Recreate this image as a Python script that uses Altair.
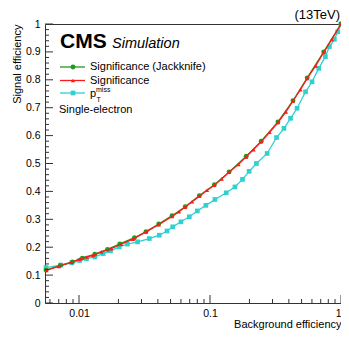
import altair as alt
import pandas as pd

# ---- data ----
red_x = [0.00565, 0.0070, 0.0087, 0.0101, 0.0115, 0.0128, 0.0148, 0.0176, 0.021, 0.0258,
         0.0325, 0.0406, 0.0513, 0.058, 0.0647, 0.073, 0.083, 0.095, 0.108, 0.123,
         0.14, 0.165, 0.189, 0.215, 0.246, 0.285, 0.33, 0.38, 0.43, 0.49,
         0.552, 0.64, 0.738, 0.85, 1.0]
red_y = [0.117, 0.131, 0.146, 0.157, 0.165, 0.171, 0.183, 0.195, 0.211, 0.229,
         0.255, 0.281, 0.310, 0.327, 0.344, 0.363, 0.383, 0.404, 0.422, 0.445,
         0.469, 0.497, 0.524, 0.550, 0.578, 0.612, 0.647, 0.685, 0.724, 0.765,
         0.805, 0.850, 0.898, 0.945, 1.0]

green_x = [0.0056, 0.0072, 0.0089, 0.0106, 0.0132, 0.0165, 0.0205, 0.0265, 0.0325, 0.0406,
           0.0513, 0.0647, 0.083, 0.108, 0.14, 0.189, 0.246, 0.33, 0.43, 0.552, 0.738, 1.0]
green_y = [0.118, 0.135, 0.147, 0.161, 0.175, 0.192, 0.212, 0.234, 0.256, 0.283,
           0.313, 0.345, 0.385, 0.424, 0.470, 0.526, 0.580, 0.649, 0.725, 0.807, 0.900, 1.0]

cyan_x = [0.0056, 0.00726, 0.0088, 0.0101, 0.0114, 0.0132, 0.0153, 0.0174, 0.0203, 0.0234,
          0.028, 0.0344, 0.041, 0.047, 0.0519, 0.060, 0.0695, 0.080, 0.093, 0.109,
          0.133, 0.155, 0.177, 0.199, 0.226, 0.273, 0.322, 0.367, 0.412, 0.462,
          0.536, 0.601, 0.676, 0.76, 0.816, 0.89, 0.944, 1.0]
cyan_y = [0.127, 0.136, 0.144, 0.152, 0.159, 0.165, 0.177, 0.187, 0.201, 0.211,
          0.219, 0.231, 0.243, 0.258, 0.273, 0.291, 0.309, 0.330, 0.350, 0.371,
          0.395, 0.416, 0.443, 0.472, 0.500, 0.536, 0.593, 0.626, 0.662, 0.698,
          0.757, 0.793, 0.841, 0.883, 0.919, 0.945, 0.972, 1.0]

y_major = [round(0.1 * i, 1) for i in range(11)]
y_minor = [round(0.02 * i, 2) for i in range(51) if i % 5 != 0]
x_major = [0.01, 0.1, 1.0]
x_minor = [0.006, 0.007, 0.008, 0.009,
           0.02, 0.03, 0.04, 0.05, 0.06, 0.07, 0.08, 0.09,
           0.2, 0.3, 0.4, 0.5, 0.6, 0.7, 0.8, 0.9]

GREEN = "#1f9a1f"
RED = "#ff1a1a"
CYAN = "#2fd0d0"
FONT = "Liberation Sans"
W, H = 296, 279

xs = alt.Scale(type="log", domain=[0.0055, 1.0], nice=False)
ys = alt.Scale(domain=[0, 1], nice=False)

XAXIS = alt.Axis(values=x_major, format="~g", title="Background efficiency",
                 titleX=W, titleY=24, titleAlign="right", titleBaseline="alphabetic",
                 titleFontSize=11, titleFontWeight="normal", labelFontSize=10.5,
                 labelPadding=5, tickSize=0, grid=False, domain=False,
                 labelFlush=False, labelBound=False, labelOverlap=False,
                 labelAlign={"condition": {"test": "datum.value >= 1", "value": "right"},
                             "value": "center"})
YAXIS = alt.Axis(values=y_major, format="~g", title="Signal efficiency",
                 titleX=-25, titleY=0, titleAlign="right", titleBaseline="alphabetic",
                 titleAngle=270, titleFontSize=11, titleFontWeight="normal",
                 labelFontSize=10.5, labelPadding=5, tickSize=0, grid=False,
                 domain=False, labelFlush=False, labelBound=False, labelOverlap=False)

X = alt.X("bkg:Q", scale=xs, axis=XAXIS)
Y = alt.Y("sig:Q", scale=ys, axis=YAXIS)

def series(xv, yv):
    return pd.DataFrame({"bkg": xv, "sig": yv})

def curve(df, color, shape, size):
    base = alt.Chart(df)
    line = base.mark_line(color=color, strokeWidth=1.3).encode(x=X, y=Y)
    pts = base.mark_point(color=color, fill=color, filled=True, shape=shape, size=size,
                          opacity=1).encode(x=X, y=Y)
    return line + pts

cyan_layer = curve(series(cyan_x, cyan_y), CYAN, "square", 22)
green_layer = curve(series(green_x, green_y), GREEN, "circle", 24)
red_layer = curve(series(red_x, red_y), RED, "triangle-up", 18)

# inward ticks (ROOT style)
ymaj = alt.Chart(pd.DataFrame({"sig": y_major})).mark_rule(color="#333", strokeWidth=1).encode(
    y=Y, x=alt.value(0), x2=alt.value(8))
ymin = alt.Chart(pd.DataFrame({"sig": y_minor})).mark_rule(color="#333", strokeWidth=1).encode(
    y=Y, x=alt.value(0), x2=alt.value(4))
xmaj = alt.Chart(pd.DataFrame({"bkg": x_major})).mark_rule(color="#333", strokeWidth=1).encode(
    x=X, y=alt.value(H), y2=alt.value(H - 8))
xmin = alt.Chart(pd.DataFrame({"bkg": x_minor})).mark_rule(color="#333", strokeWidth=1).encode(
    x=X, y=alt.value(H), y2=alt.value(H - 4))

def txt(s, x, y, size=11, weight="normal", style="normal", align="left", baseline="alphabetic"):
    return alt.Chart(pd.DataFrame({"t": [s]})).mark_text(
        font=FONT, fontSize=size, fontWeight=weight, fontStyle=style, align=align,
        baseline=baseline, color="black").encode(text="t:N", x=alt.value(x), y=alt.value(y))

def leg_entry(color, shape, size, y):
    d = pd.DataFrame({"a": [0]})
    ln = alt.Chart(d).mark_rule(color=color, strokeWidth=1.3).encode(
        x=alt.value(15), x2=alt.value(40), y=alt.value(y))
    pt = alt.Chart(d).mark_point(color=color, fill=color, filled=True, shape=shape,
                                 size=size, opacity=1).encode(x=alt.value(28), y=alt.value(y))
    return ln + pt

legend = alt.layer(
    txt("CMS", 15, 24, size=21, weight="bold"),
    txt("Simulation", 67, 24, size=14.5, style="italic"),
    leg_entry(GREEN, "circle", 24, 43),
    txt("Significance (Jackknife)", 45, 43, baseline="middle"),
    leg_entry(RED, "triangle-up", 18, 56.5),
    txt("Significance", 45, 56.5, baseline="middle"),
    leg_entry(CYAN, "square", 22, 69),
    txt("p", 45, 73),
    txt("miss", 51, 67.5, size=7),
    txt("T", 51.5, 78, size=7),
    txt("Single-electron", 14, 89),
    txt("(13TeV)", W - 1, -5, size=13, align="right"),
)

chart = alt.layer(
    cyan_layer, green_layer, red_layer,
    ymin, ymaj, xmin, xmaj,
    legend,
).properties(
    width=W, height=H,
    autosize=alt.AutoSizeParams(type="none"),
    padding={"left": 37, "top": 16, "right": 0, "bottom": 27},
).configure_view(
    stroke="#333", strokeWidth=1
).configure_axis(
    labelFont=FONT, titleFont=FONT, labelColor="black", titleColor="black"
)

chart.save("out.html", embed_options={"renderer": "svg", "actions": False})
